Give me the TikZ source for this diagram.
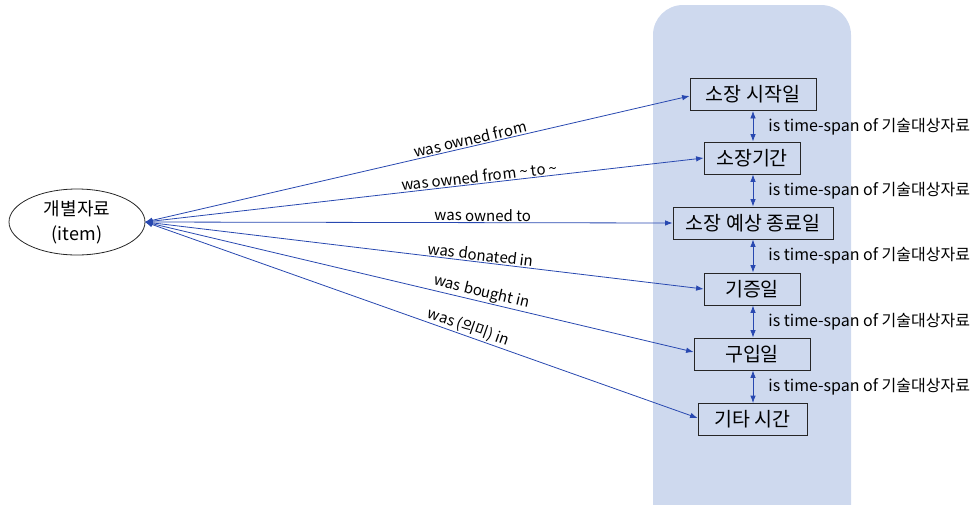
\documentclass[tikz,border=0pt]{standalone}
\usepackage{fontspec}
\setmainfont{Noto Sans CJK KR}
\usetikzlibrary{arrows.meta,shapes.geometric}
\definecolor{panel}{RGB}{206,217,238}
\definecolor{edge}{RGB}{40,72,176}
\tikzset{
  box/.style={draw=black!85, line width=0.8pt, fill=panel, minimum height=32pt, font=\fontsize{19.5}{21}\selectfont, inner sep=0pt},
  rel/.style={draw=edge, line width=0.8pt, {Latex[length=7.5pt,width=5.5pt]}-{Latex[length=7.5pt,width=5.5pt]}},
  lab/.style={font=\fontsize{15}{17}\selectfont, text=black, inner sep=0pt},
  tslab/.style={font=\fontsize{16}{17}\selectfont, text=black, inner sep=0pt},
}
\begin{document}
\begin{tikzpicture}[x=1pt,y=-1pt]
\clip (0,0) rectangle (976,504);
\fill[panel, rounded corners=30pt] (653,5) rectangle (851,540);
\node[draw=black!85, line width=0.8pt, ellipse, minimum width=136pt, minimum height=66pt, inner sep=0pt, align=center, font=\fontsize{18}{25}\selectfont] (item) at (77,222) {개별자료\\(item)};
\node[box, minimum width=126pt] (b1) at (753,94.5) {소장 시작일};
\node[box, minimum width=96pt] (b2) at (752,158) {소장기간};
\node[box, minimum width=160pt] (b3) at (753,223) {소장 예상 종료일};
\node[box, minimum width=96pt] (b4) at (752,289) {기증일};
\node[box, minimum width=116pt] (b5) at (752,354) {구입일};
\node[box, minimum width=109pt] (b6) at (752.5,419.5) {기타 시간};
\coordinate (c) at (145,222);
\draw[rel] (c) -- node[lab, sloped, above=1pt, pos=0.6] {was owned from} (b1.west|-0,96);
\draw[rel] (c) -- node[lab, sloped, above=1pt, pos=0.6] {was owned from \textasciitilde{} to \textasciitilde} (b2.west|-0,158);
\draw[rel] (c) -- node[lab, sloped, above=1pt, pos=0.64] {was owned to} (b3.west);
\draw[rel] (c) -- node[lab, sloped, above=1pt, pos=0.6] {was donated in} (b4.west);
\draw[rel] (c) -- node[lab, sloped, above=1pt, pos=0.61] {was bought in} (b5.west|-0,352);
\draw[rel] (c) -- node[lab, sloped, above=1pt, pos=0.58] {was (의미) in} (b6.west|-0,418);
\foreach \a/\b in {b1/b2,b2/b3,b3/b4,b4/b5,b5/b6}{
  \draw[rel] (\a.south-|753,0) -- node[tslab, anchor=west, xshift=15pt] {is time-span of 기술대상자료} (\b.north-|753,0);
}
\end{tikzpicture}
\end{document}
